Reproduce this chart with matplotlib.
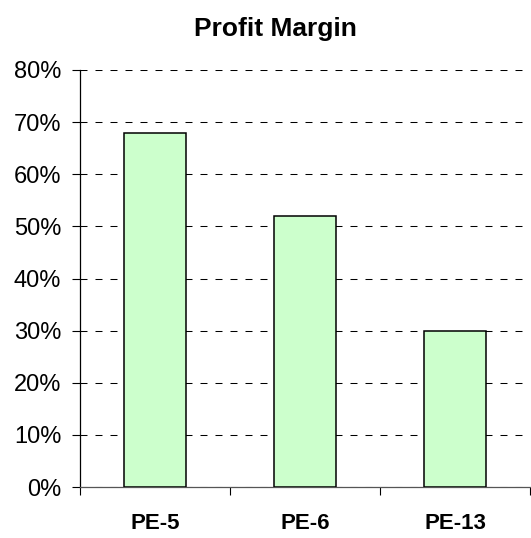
import matplotlib
matplotlib.use("Agg")
import matplotlib.pyplot as plt
from matplotlib.ticker import FixedLocator, PercentFormatter

plt.rcParams['font.family'] = ['Liberation Sans', 'DejaVu Sans']

categories = ["PE-5", "PE-6", "PE-13"]
margins = [68, 52, 30]
y_ticks = [0, 10, 20, 30, 40, 50, 60, 70, 80]

fig = plt.figure(figsize=(5.31, 5.38), dpi=100)
ax = fig.add_axes([80 / 531, 51 / 538, 450 / 531, 417 / 538])

x = list(range(len(categories)))
ax.bar(x, margins, width=0.41, color="#CCFFCC", edgecolor="black", linewidth=1.1, zorder=3)

ax.set_xlim(-0.5, len(categories) - 0.5)
ax.set_ylim(0, 80)
ax.set_yticks(y_ticks)
ax.yaxis.set_major_formatter(PercentFormatter(decimals=0))
ax.set_xticks(x)
ax.set_xticklabels(categories, fontweight="bold", fontsize=16)
ax.xaxis.set_minor_locator(FixedLocator([i - 0.5 for i in range(len(categories) + 1)]))

ax.tick_params(axis="x", which="major", length=0, pad=19)
ax.tick_params(axis="x", which="minor", length=5.5, width=0.8, direction="out")
ax.tick_params(axis="y", length=5.5, width=0.8, pad=8, labelsize=17)

# dashed gridlines, roughly 7px dash / 8px gap
ax.grid(axis="y", color="black", linestyle=(0, (6.7, 7.7)), linewidth=0.75, zorder=0)
for side in ["top", "right"]:
    ax.spines[side].set_visible(False)
ax.spines["left"].set_linewidth(0.9)
ax.spines["bottom"].set_linewidth(0.9)
ax.spines["bottom"].set_color("#555555")

fig.text(275 / 531, 1 - 36 / 538, "Profit Margin", ha="center", va="baseline",
         fontsize=19, fontweight="bold")

fig.savefig("out.png", dpi=100)
